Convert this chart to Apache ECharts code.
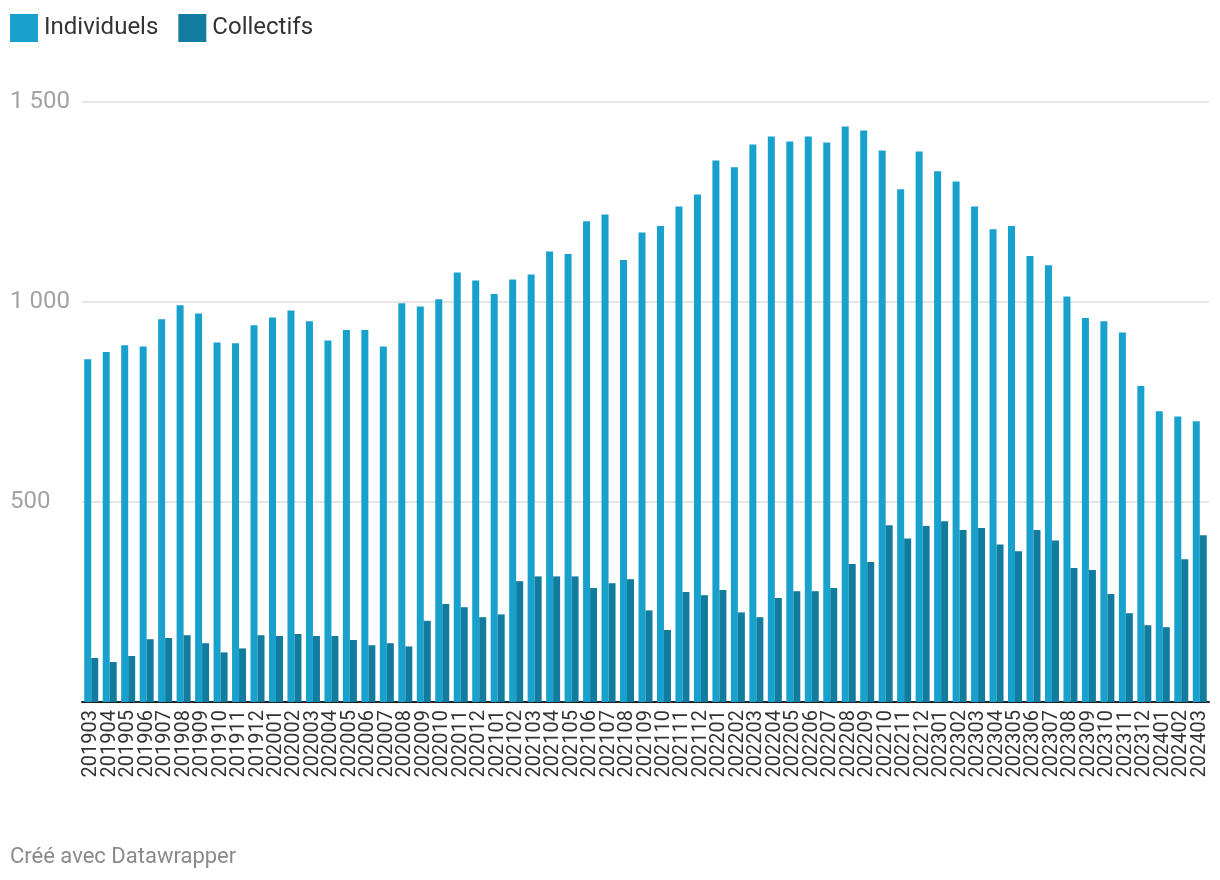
<!DOCTYPE html>
<html>
<head>
<meta charset="utf-8">
<script src="https://cdn.jsdelivr.net/npm/echarts@6/dist/echarts.min.js"></script>
<style>
  html, body { margin: 0; padding: 0; background: #fff; }
  #chart { width: 1220px; height: 880px; }
</style>
</head>
<body>
<div id="chart"></div>
<script>
const categories = [
  '201903','201904','201905','201906','201907','201908','201909','201910','201911','201912',
  '202001','202002','202003','202004','202005','202006','202007','202008','202009','202010','202011','202012',
  '202101','202102','202103','202104','202105','202106','202107','202108','202109','202110','202111','202112',
  '202201','202202','202203','202204','202205','202206','202207','202208','202209','202210','202211','202212',
  '202301','202302','202303','202304','202305','202306','202307','202308','202309','202310','202311','202312',
  '202401','202402','202403'
];
const individuels = [
  857, 875, 892, 889, 957, 992, 971, 899, 897, 942,
  961, 979, 952, 904, 930, 930, 889, 997, 989, 1007, 1074, 1054,
  1020, 1056, 1069, 1126, 1120, 1202, 1219, 1105, 1174, 1190, 1239, 1269,
  1354, 1337, 1394, 1414, 1401, 1414, 1399, 1439, 1429, 1379, 1282, 1376,
  1327, 1301, 1239, 1182, 1190, 1115, 1092, 1014, 960, 952, 924, 790,
  727, 714, 702
];
const collectifs = [
  110, 100, 115, 157, 160, 167, 147, 124, 134, 167,
  165, 170, 165, 165, 155, 142, 147, 139, 203, 245, 237, 212,
  219, 302, 314, 314, 314, 285, 297, 307, 229, 180, 275, 267,
  280, 224, 212, 260, 277, 277, 285, 345, 350, 442, 409, 440,
  452, 430, 435, 394, 377, 430, 404, 335, 330, 270, 222, 192,
  187, 357, 417
];
const yTicks = [0, 500, 1000, 1500];
const yTickLabels = ['', '500', '1 000', '1 500'];
const seriesNames = ['Individuels', 'Collectifs'];
const footerText = 'Créé avec Datawrapper';

const chart = echarts.init(document.getElementById('chart'), null, { renderer: 'canvas' });
const FONT = 'Roboto, "Noto Sans", sans-serif';

chart.setOption({
  animation: false,
  backgroundColor: '#ffffff',
  textStyle: { fontFamily: FONT },
  legend: {
    left: 10,
    top: 14,
    icon: 'rect',
    itemWidth: 28,
    itemHeight: 28,
    itemGap: 20,
    padding: 0,
    textStyle: { fontSize: 24, color: '#333333', fontFamily: FONT, padding: [0, 0, 0, 1] },
    data: seriesNames
  },
  grid: { left: 82, right: 11, top: 102, bottom: 178, containLabel: false },
  xAxis: {
    type: 'category',
    data: categories,
    axisLine: { show: true, lineStyle: { color: '#222222', width: 2 } },
    axisTick: { show: false },
    axisLabel: {
      interval: 0,
      rotate: 90,
      margin: 8,
      fontSize: 20,
      color: '#333333',
      fontFamily: FONT
    }
  },
  yAxis: {
    type: 'value',
    min: 0,
    max: 1500,
    interval: 500,
    axisLine: { show: false },
    axisTick: { show: false },
    splitLine: { show: true, lineStyle: { color: '#e5e5e5', width: 2 } },
    axisLabel: {
      align: 'left',
      margin: 72,
      fontSize: 24,
      color: '#a3a3a3',
      fontFamily: FONT,
      formatter: function (v) {
        const i = yTicks.indexOf(v);
        return i >= 0 ? yTickLabels[i] : '';
      }
    }
  },
  series: [
    {
      name: seriesNames[0],
      type: 'bar',
      data: individuels,
      barWidth: 7,
      barGap: '0%',
      itemStyle: { color: '#18a1cd' }
    },
    {
      name: seriesNames[1],
      type: 'bar',
      data: collectifs,
      barWidth: 7,
      barGap: '0%',
      itemStyle: { color: '#127c9e' }
    }
  ],
  graphic: [
    {
      type: 'text',
      left: 10,
      top: 846,
      style: { text: footerText, fontSize: 22, fill: '#8a8a8a', fontFamily: FONT }
    }
  ]
});
</script>
</body>
</html>
